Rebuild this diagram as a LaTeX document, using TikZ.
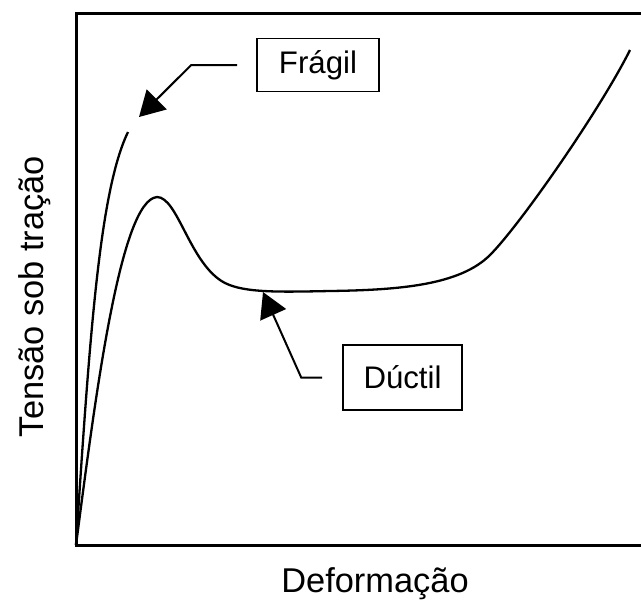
\documentclass[tikz,border=0pt]{standalone}
\usepackage{fontspec}
\setmainfont{Liberation Sans}
\usetikzlibrary{arrows.meta}
\begin{document}
\begin{tikzpicture}[x=0.5pt,y=-0.5pt,
    >={Triangle[length=12.5pt,width=14pt]},
    rotulo/.style={draw,line width=0.8pt,minimum width=61pt,font=\fontsize{15.6}{18}\selectfont},
    eixo/.style={font=\fontsize{17.2}{20}\selectfont},
    curva/.style={line width=1.15pt}]
    \useasboundingbox (0,0) rectangle (641,601);
    \draw[line width=1.5pt] (645,13)--(76,13)--(76,545)--(645,545);
    \node[eixo,rotate=90,anchor=base] (ylab) at (43,296.5) {Tensão sob tração};
    \node[eixo,anchor=base] (xlab) at (375,592) {Deformação};
    \draw[curva] (76,545) .. controls (90,330) and (100,190) .. (128,132);
    \draw[curva] (76,545) .. controls (95,400) and (120,200) .. (157,197)
        .. controls (178,197) and (190,265) .. (225,283)
        .. controls (245,293) and (280,292) .. (330,291)
        .. controls (400,290) and (460,285) .. (490,255)
        .. controls (520,225) and (600,110) .. (630,50);
    \coordinate (ftip) at (139,117);
    \coordinate (dtip) at (263,292);
    \node[rotulo,minimum height=26.5pt] (fragil) at (318,65) {Frágil};
    \node[rotulo,minimum width=59.5pt,minimum height=32.5pt] (ductil) at (402.5,377.5) {Dúctil};
    \draw[->,line width=1pt,shorten <=9.5pt] (fragil.west) -- ++(-65,0) -- (ftip);
    \draw[->,line width=1pt,shorten <=10pt] (ductil.west) -- ++(-41,0) -- (dtip);
\end{tikzpicture}
\end{document}
